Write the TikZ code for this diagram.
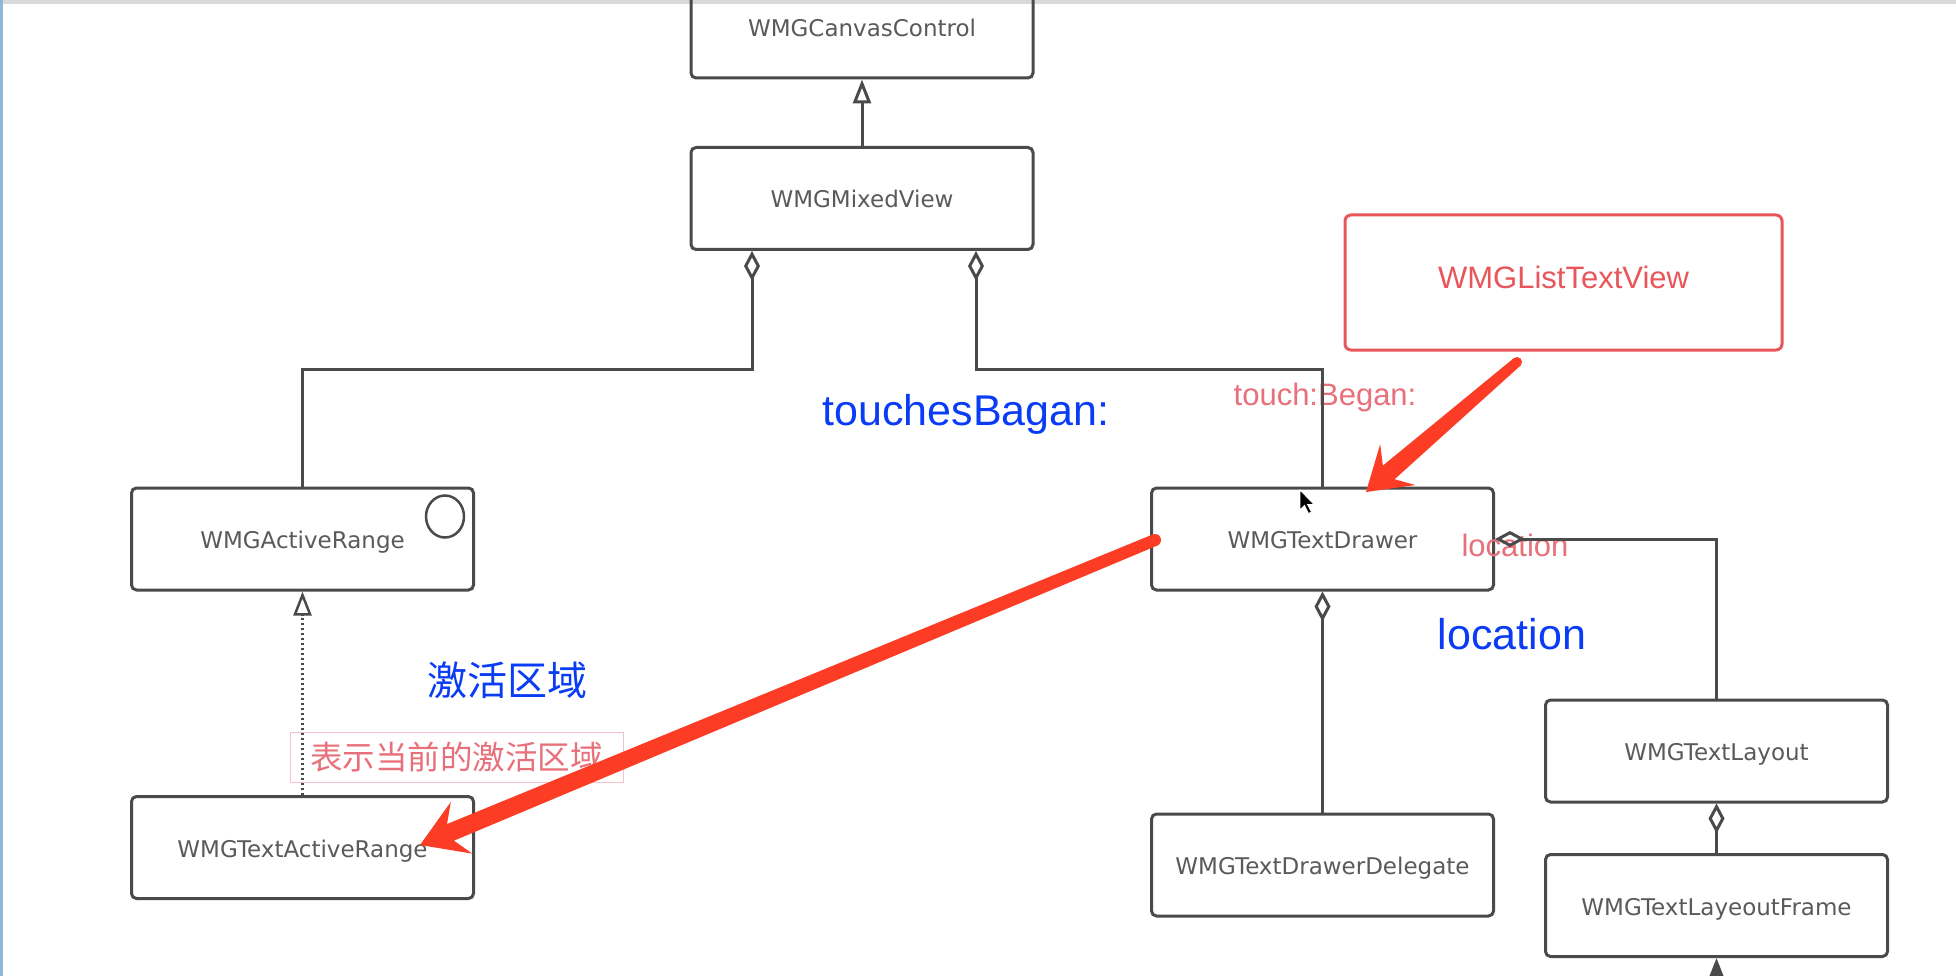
\documentclass[tikz,border=0pt]{standalone}
\usepackage{fontspec}
\usetikzlibrary{arrows.meta,calc}
\newfontfamily\boxfont{DejaVu Sans}
\newfontfamily\helfont{Liberation Sans}
\newfontfamily\cjkfont{Noto Sans CJK SC}
\definecolor{boxline}{HTML}{4A4A4A}
\definecolor{boxtext}{HTML}{5A5A5A}
\definecolor{listred}{HTML}{E8555A}
\definecolor{lbred}{HTML}{E8707A}
\definecolor{annblue}{HTML}{0A3CF5}
\definecolor{arrred}{HTML}{FD3C26}
\definecolor{pinkline}{HTML}{F5C0C8}
\definecolor{edgeblue}{HTML}{8CB9D7}
\begin{document}
\begin{tikzpicture}[x=1pt,y=-1pt,
  umlbox/.style={draw=boxline, line width=3pt, rounded corners=5pt,
    minimum width=342pt, minimum height=102pt, inner sep=0pt, text=boxtext,
    font=\boxfont\fontsize{23}{27}\selectfont, text height=19pt, text depth=0pt},
  redbox/.style={draw=listred, line width=3pt, rounded corners=6pt,
    minimum width=437pt, minimum height=135pt, inner sep=0pt, text=listred,
    font=\helfont\fontsize{31}{36}\selectfont, text height=11pt, text depth=0pt},
  conn/.style={draw=boxline, line width=3pt},
  aggr/.style={conn, {Diamond[open, length=30pt, width=16pt]}-},
  gen/.style={conn, -{Triangle[open, length=24pt, width=18pt]}},
  realiz/.style={draw=boxline, line width=2.5pt, dash pattern=on 2.5pt off 2.5pt,
    -{Triangle[open, length=24pt, width=18pt, line width=2.5pt]}},
  redlabel/.style={inner sep=0pt, text=lbred, font=\helfont\fontsize{31}{36}\selectfont, anchor=base},
  bluelabel/.style={inner sep=0pt, text=annblue, font=\helfont\fontsize{43}{50}\selectfont, anchor=base},
  bigarrow/.style={fill=arrred}
]
\useasboundingbox (0,0) rectangle (1956,976);
\clip (0,0) rectangle (1956,976);
\fill[white] (0,0) rectangle (1956,976);
\fill[gray!30] (0,0) rectangle (1956,4);
\fill[edgeblue] (0,0) rectangle (2.5,976);

% boxes
\node[umlbox] (canvas) at (862,27) {WMGCanvasControl};
\node[umlbox] (mixed) at (862,198.5) {WMGMixedView};
\node[umlbox] (active) at (302.5,539) {WMGActiveRange};
\node[umlbox] (textactive) at (302.5,847.5) {WMGTextActiveRange};
\node[umlbox] (drawer) at (1322.5,539) {WMGTextDrawer};
\node[umlbox] (delegate) at (1322.5,865) {WMGTextDrawerDelegate};
\node[umlbox] (layout) at (1716.5,751) {WMGTextLayout};
\node[umlbox] (frame) at (1716.5,905.5) {WMGTextLayeoutFrame};
\node[redbox] (listview) at (1563.5,282.5) {WMGListTextView};

% interface circle
\draw[boxline, line width=2.5pt] ($(active.north east)+(-30,30)$) ellipse (19pt and 21pt);

% labels
\node[draw=pinkline, line width=1pt, minimum width=333pt, minimum height=50pt, inner sep=0pt,
  text=lbred, font=\cjkfont\fontsize{32.5}{40}\selectfont] (note) at (456.5,757) {表示当前的激活区域};
\node[redlabel] (touchbegan) at (1325,405) {touch:Began:};
\node[redlabel] (locred) at (1515,556) {location};
\node[bluelabel] (touches) at (966,425) {touchesBagan:};
\node[bluelabel] (locblue) at (1512,649) {location};
\node[inner sep=0pt, text=annblue, font=\cjkfont\fontsize{40}{48}\selectfont] (activezone) at (507,680) {激活区域};

% connectors
\draw[gen] (mixed) -- (canvas);
\draw[aggr] ([xshift=-110pt]mixed.south) -- ++(0,118) -| (active.north);
\draw[aggr] ([xshift=114pt]mixed.south) -- ++(0,118) -| (drawer.north);
\draw[aggr] (drawer.south) -- (delegate.north);
\draw[aggr] (drawer.east) -| (layout.north);
\draw[aggr] (layout.south) -- (frame.north);
\draw[realiz] (textactive.north) -- (active.south);
\coordinate (below) at (1716.5,1010);
\draw[conn, -{Triangle[length=24pt, width=18pt]}] (below) -- (frame.south);

% red annotation arrows
\coordinate (r1s) at (1517,362);
\coordinate (r1t) at (1366,492);
\coordinate (r1h) at ($(r1t)!42pt!(r1s)$);
\coordinate (r1j) at ($(r1t)!30pt!(r1s)$);
\fill[bigarrow] (r1t) -- ($(r1h)!27pt!90:(r1s)$) -- ($(r1j)!9pt!90:(r1s)$)
  -- ($(r1s)!5pt!-90:(r1t)$) -- ($(r1s)!5pt!90:(r1t)$)
  -- ($(r1j)!9pt!-90:(r1s)$) -- ($(r1h)!27pt!-90:(r1s)$) -- cycle;
\fill[bigarrow] (r1s) circle (5pt);

\coordinate (r2s) at (1155,540);
\coordinate (r2t) at (420,845);
\coordinate (r2h) at ($(r2t)!45pt!(r2s)$);
\coordinate (r2j) at ($(r2t)!33pt!(r2s)$);
\fill[bigarrow] (r2t) -- ($(r2h)!28pt!90:(r2s)$) -- ($(r2j)!9pt!90:(r2s)$)
  -- ($(r2s)!6pt!-90:(r2t)$) -- ($(r2s)!6pt!90:(r2t)$)
  -- ($(r2j)!9pt!-90:(r2s)$) -- ($(r2h)!28pt!-90:(r2s)$) -- cycle;
\fill[bigarrow] (r2s) circle (6pt);

% mouse cursor
\coordinate (cursor) at (1300,490);
\filldraw[black, draw=white, line width=0.8pt] (cursor) -- ++(0,20) -- ++(4.5,-4.5) -- ++(4,8)
  -- ++(3,-1.5) -- ++(-4,-7.5) -- ++(6.5,0) -- cycle;
\end{tikzpicture}
\end{document}
